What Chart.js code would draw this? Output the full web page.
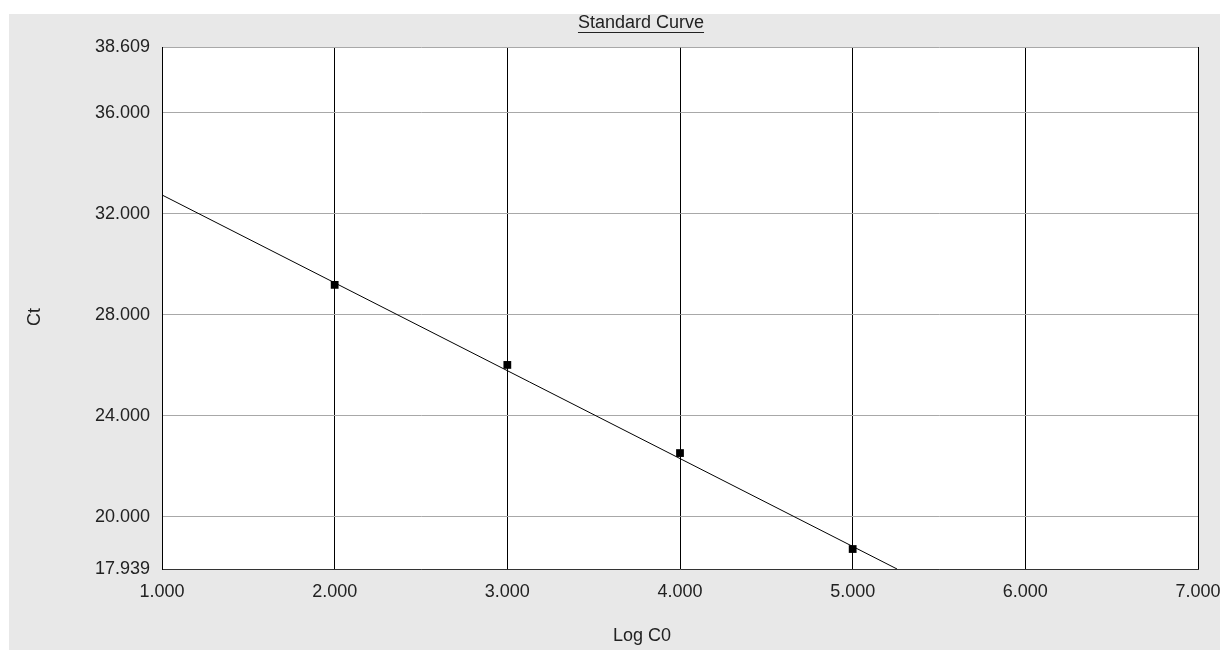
<!DOCTYPE html>
<html>
<head>
<meta charset="utf-8">
<script src="https://cdn.jsdelivr.net/npm/chart.js@4.4.1/dist/chart.umd.min.js"></script>
<style>
  html, body { margin: 0; padding: 0; background: #fff; }
  #wrap { position: absolute; left: 9px; top: 14px; width: 1211px; height: 636px; background: #e8e8e8; }
</style>
</head>
<body>
<div id="wrap"><canvas id="chart" width="1211" height="636"></canvas></div>
<script>
// standards (Log C0, Ct)
const logC0 = [2, 3, 4, 5];
const ctValues = [29.19, 26.02, 22.53, 18.73];

// fitted line, read at its two visible ends
const fitX = [1.0, 5.257];
const fitY = [32.75, 17.939];

const yTicks = [17.939, 20, 24, 28, 32, 36, 38.609];
const xMin = 1, xMax = 7;

const FONT = "Liberation Sans, Arial, sans-serif";

// white plot area + titles drawn like the original
const plotBg = {
  id: "plotBg",
  beforeDraw(chart) {
    const { ctx, chartArea: a } = chart;
    ctx.save();
    ctx.fillStyle = "#fff";
    ctx.fillRect(a.left, a.top, a.right - a.left, a.bottom - a.top);
    ctx.restore();
  },
  afterDraw(chart) {
    const ctx = chart.ctx;
    ctx.save();
    ctx.fillStyle = "#222";
    ctx.font = "18px " + FONT;
    ctx.textAlign = "center";
    ctx.textBaseline = "middle";

    // title, underlined
    const t = "Standard Curve";
    ctx.fillText(t, 632, 9);
    const w = ctx.measureText(t).width;
    ctx.fillRect(632 - w / 2, 18, w, 1);

    ctx.fillText("Log C0", 633, 622);

    ctx.translate(26, 303);
    ctx.rotate(-Math.PI / 2);
    ctx.fillText("Ct", 0, 0);
    ctx.restore();
  }
};

new Chart(document.getElementById("chart"), {
  type: "scatter",
  data: {
    datasets: [
      {
        label: "Fit",
        data: fitX.map((x, i) => ({ x: x, y: fitY[i] })),
        showLine: true,
        borderColor: "#000",
        borderWidth: 1,
        pointRadius: 0,
        order: 2
      },
      {
        label: "Standards",
        data: logC0.map((x, i) => ({ x: x, y: ctValues[i] })),
        pointStyle: "rect",
        pointRadius: 5.5,
        backgroundColor: "#000",
        borderColor: "#000",
        borderWidth: 0,
        order: 1
      }
    ]
  },
  options: {
    responsive: false,
    animation: false,
    layout: { padding: { left: 0, top: 33, right: 22, bottom: 0 } },
    plugins: {
      legend: { display: false },
      tooltip: { enabled: false }
    },
    scales: {
      x: {
        type: "linear",
        min: xMin,
        max: xMax,
        afterFit(scale) {
          scale.height = 81;
          scale.paddingLeft = 0;
          scale.paddingRight = 0;
        },
        ticks: {
          stepSize: 1,
          padding: 12,
          color: "#222",
          font: { family: FONT, size: 18 },
          callback: (v) => Number(v).toFixed(3)
        },
        grid: { color: "#000", lineWidth: 1, drawTicks: false },
        border: { color: "#333", width: 1 }
      },
      y: {
        type: "linear",
        min: yTicks[0],
        max: yTicks[yTicks.length - 1],
        afterFit(scale) {
          scale.width = 153;
          scale.paddingTop = 0;
          scale.paddingBottom = 0;
        },
        afterBuildTicks(scale) {
          scale.ticks = yTicks.map((v) => ({ value: v }));
        },
        ticks: {
          padding: 12,
          color: "#222",
          font: { family: FONT, size: 18 },
          callback: (v) => Number(v).toFixed(3)
        },
        grid: { color: "#a8a8a8", lineWidth: 1, drawTicks: false },
        border: { color: "#000", width: 1 }
      }
    }
  },
  plugins: [plotBg]
});
</script>
</body>
</html>
